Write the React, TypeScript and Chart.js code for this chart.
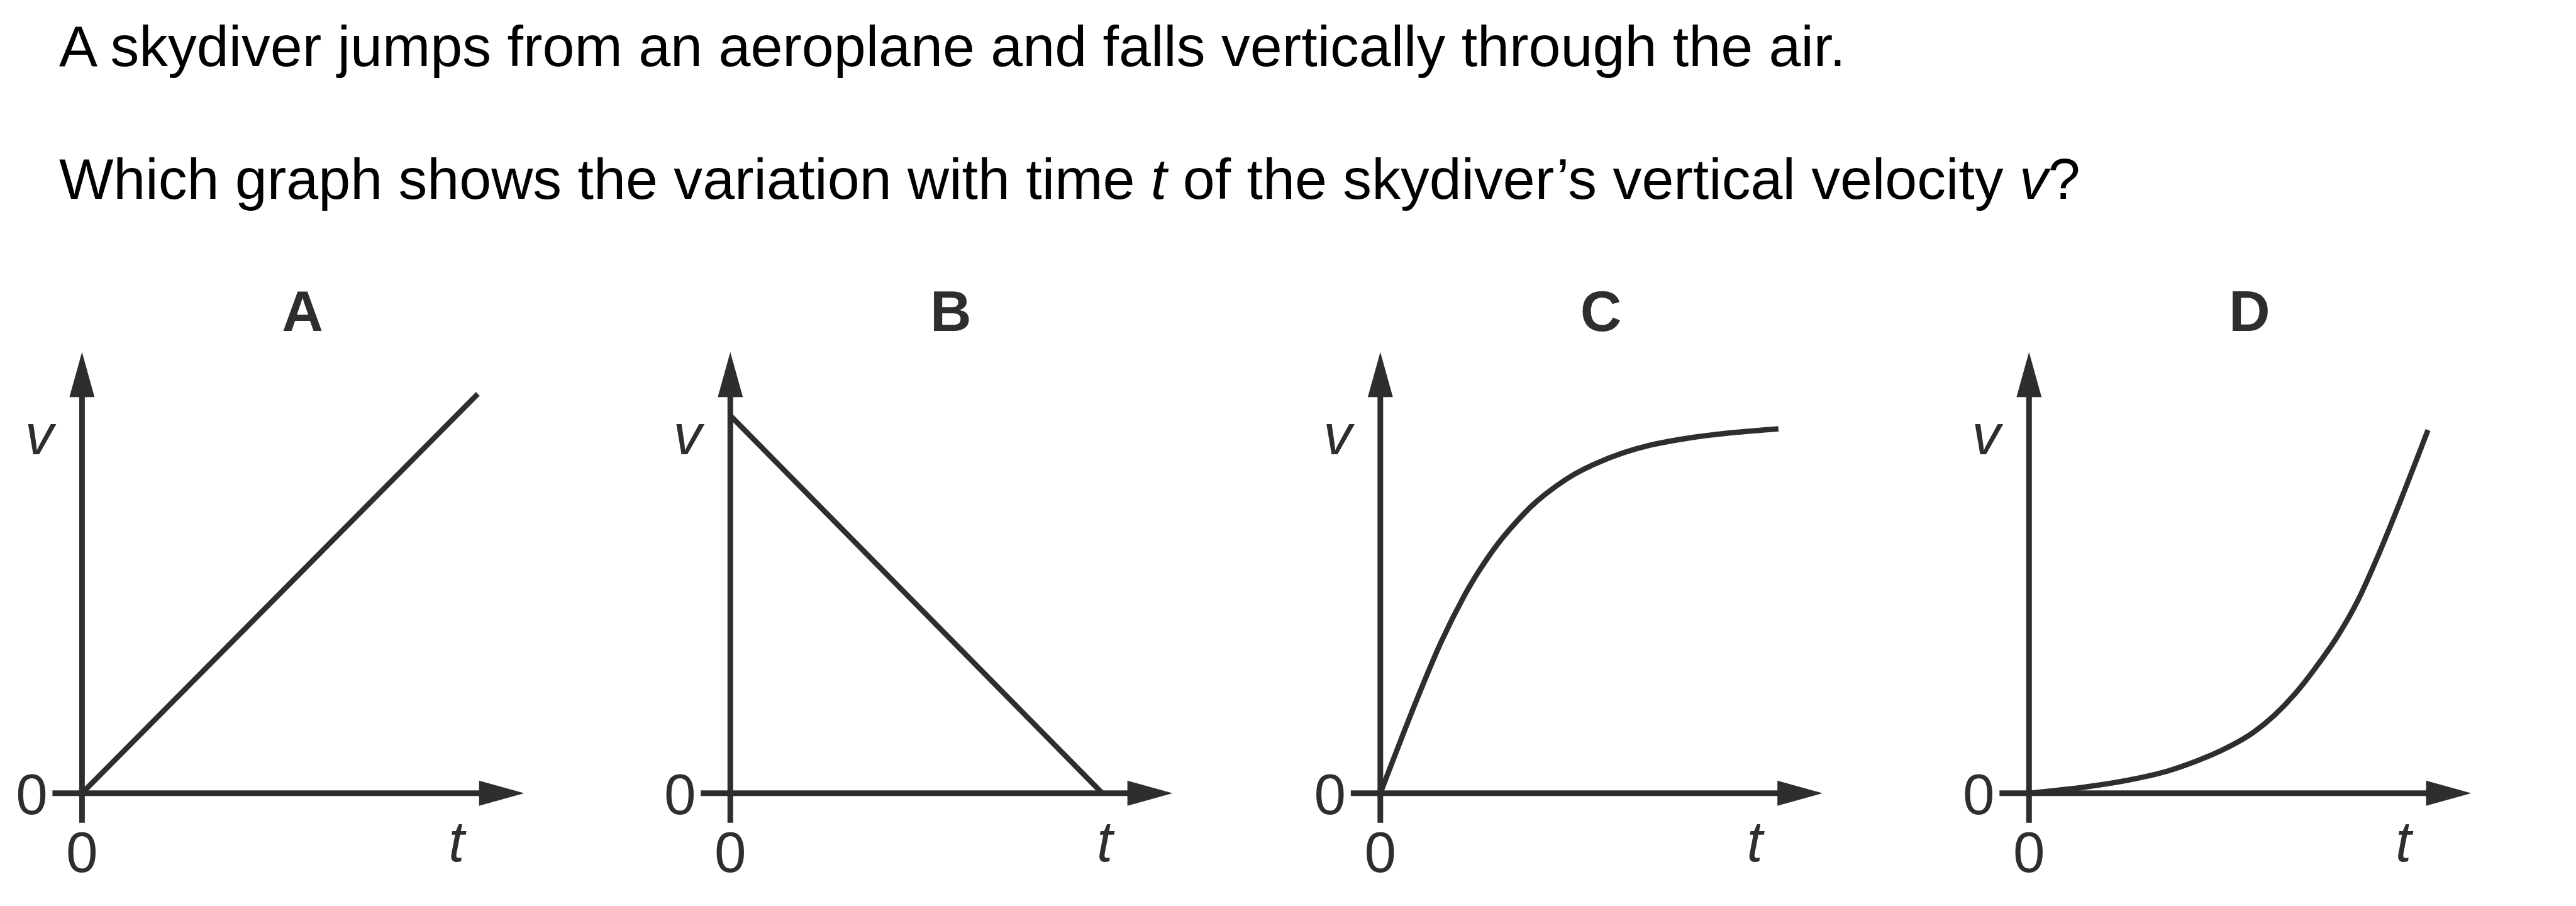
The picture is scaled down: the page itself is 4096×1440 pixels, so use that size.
import React, { useEffect, useRef } from "react";
import { Chart, registerables } from "chart.js";

Chart.register(...registerables);

// ---------- data (axis units: 0 .. 100, where 100 is the arrow tip) ----------
const panelLabels = ["A", "B", "C", "D"];
const xAxisTitle = "t";
const yAxisTitle = "v";
const originLabel = "0";
const axisMax = 100;

const timeA = [0, 89.5];
const velocityA = [0, 90.5];

const timeB = [0, 84.1];
const velocityB = [85.6, 0];

const timeC = [0, 5.5, 9.5, 13.8, 18.9, 22.4, 26.7, 32.8, 35.3, 39.6, 43.9, 48.2, 55.1, 61.1, 69.7, 78.4, 90.0];
const velocityC = [0, 14.3, 24.3, 34.4, 44.6, 50.5, 56.7, 63.7, 66.1, 69.5, 72.3, 74.5, 77.2, 78.9, 80.5, 81.6, 82.6];

const timeD = [0, 12.6, 22.1, 31.6, 41.1, 45.9, 50.6, 55.4, 60.2, 64.9, 69.7, 74.4, 79.2, 84.0, 90.2];
const velocityD = [0, 1.4, 2.9, 5.1, 8.6, 10.9, 13.7, 17.6, 22.6, 28.6, 35.5, 43.8, 54.5, 66.3, 82.3];

const seriesTimes = [timeA, timeB, timeC, timeD];
const seriesVelocities = [velocityA, velocityB, velocityC, velocityD];
const smoothCurve = [false, false, true, true];

const questionLine1 = "A skydiver jumps from an aeroplane and falls vertically through the air.";

// ---------- layout (reference pixels, scaled by S) ----------
const S = 0.999;
const INK = "#2e2e2e";
const FONT = '"Liberation Sans", Arial, Helvetica, sans-serif';
const yAxisXs = [130.5, 1162.4, 2197, 3229.5];
const AXIS_BOTTOM = 1262; // y of x-axis
const AXIS_TOP = 560; // y of y-arrow tip
const AXIS_LEN_X = 704; // y-axis -> x-arrow tip
const CANVAS_TOP = 430;
const CANVAS_W = 940;
const CANVAS_H = 1000;
const LEFT_ROOM = 130;

const sketchAxes = {
  id: "sketchAxes",
  beforeDatasetsDraw(chart: any, _args: any, opts: any) {
    const { ctx } = chart;
    const xs = chart.scales.x;
    const ys = chart.scales.y;
    const x0 = xs.getPixelForValue(0);
    const y0 = ys.getPixelForValue(0);
    const xEnd = xs.getPixelForValue(axisMax);
    const yEnd = ys.getPixelForValue(axisMax);
    const arrowLen = 72 * S;
    const arrowHalf = 20 * S;
    ctx.save();
    ctx.strokeStyle = INK;
    ctx.fillStyle = INK;
    ctx.lineWidth = 9 * S;
    ctx.lineCap = "butt";
    // x axis
    ctx.beginPath();
    ctx.moveTo(x0 - 47 * S, y0);
    ctx.lineTo(xEnd - arrowLen + 4, y0);
    ctx.stroke();
    // y axis
    ctx.beginPath();
    ctx.moveTo(x0, y0 + 47 * S);
    ctx.lineTo(x0, yEnd + arrowLen - 4);
    ctx.stroke();
    // arrow heads
    ctx.beginPath();
    ctx.moveTo(xEnd, y0);
    ctx.lineTo(xEnd - arrowLen, y0 - arrowHalf);
    ctx.lineTo(xEnd - arrowLen, y0 + arrowHalf);
    ctx.closePath();
    ctx.fill();
    ctx.beginPath();
    ctx.moveTo(x0, yEnd);
    ctx.lineTo(x0 - arrowHalf, yEnd + arrowLen);
    ctx.lineTo(x0 + arrowHalf, yEnd + arrowLen);
    ctx.closePath();
    ctx.fill();

    // labels
    ctx.textAlign = "center";
    ctx.textBaseline = "alphabetic";
    ctx.font = `bold ${91 * S}px ${FONT}`;
    ctx.fillText(opts.label, x0 + 351 * S, y0 - 735 * S);
    ctx.font = `${91 * S}px ${FONT}`;
    ctx.fillText(originLabel, x0 - 80 * S, y0 + 33 * S);
    ctx.fillText(originLabel, x0, y0 + 125 * S);
    ctx.font = `italic ${91 * S}px ${FONT}`;
    ctx.fillText(yAxisTitle, x0 - 68 * S, y0 - 539 * S);
    ctx.fillText(xAxisTitle, x0 + 596 * S, y0 + 108 * S);
    ctx.restore();
  },
};

function Panel({ index }: { index: number }) {
  const ref = useRef<HTMLCanvasElement | null>(null);
  const axX = yAxisXs[index];
  const left = Math.round((axX - LEFT_ROOM) * S);
  const top = Math.round(CANVAS_TOP * S);
  const w = Math.round(CANVAS_W * S);
  const h = Math.round(CANVAS_H * S);
  const padLeft = axX * S - left;
  const padRight = w - padLeft - AXIS_LEN_X * S;
  const padTop = AXIS_TOP * S - top;
  const padBottom = top + h - AXIS_BOTTOM * S;

  useEffect(() => {
    const canvas = ref.current;
    if (!canvas) return;
    const times = seriesTimes[index];
    const vels = seriesVelocities[index];
    const chart = new Chart(canvas, {
      type: "line",
      data: {
        datasets: [
          {
            data: times.map((t, i) => ({ x: t, y: vels[i] })),
            borderColor: INK,
            borderWidth: 8.5 * S,
            pointRadius: 0,
            fill: false,
            tension: smoothCurve[index] ? 0.4 : 0,
            cubicInterpolationMode: smoothCurve[index] ? "monotone" : "default",
            clip: false,
          } as any,
        ],
      },
      options: {
        responsive: false,
        animation: false,
        devicePixelRatio: 1,
        layout: { padding: { left: padLeft, right: padRight, top: padTop, bottom: padBottom } },
        scales: {
          x: { type: "linear", min: 0, max: axisMax, display: false },
          y: { type: "linear", min: 0, max: axisMax, display: false },
        },
        plugins: {
          legend: { display: false },
          tooltip: { enabled: false },
          sketchAxes: { label: panelLabels[index] },
        } as any,
      },
      plugins: [sketchAxes],
    });
    return () => chart.destroy();
  }, [index]);

  return (
    <canvas
      ref={ref}
      width={w}
      height={h}
      style={{ position: "absolute", left, top, width: w, height: h }}
    />
  );
}

export default function App() {
  const fs = 91.7 * S;
  const baseOff = 0.8465 * fs;
  const textStyle: React.CSSProperties = {
    position: "absolute",
    left: 94 * S,
    fontFamily: FONT,
    fontSize: fs,
    lineHeight: 1,
    whiteSpace: "nowrap",
    color: "#000",
    margin: 0,
  };
  return (
    <div
      style={{
        position: "absolute",
        left: 0,
        top: 0,
        width: 4096,
        height: 1440,
        background: "#fff",
        overflow: "hidden",
      }}
    >
      <div style={{ ...textStyle, top: 106 * S - baseOff }}>{questionLine1}</div>
      <div style={{ ...textStyle, top: 317 * S - baseOff }}>
        Which graph shows the variation with time <i>t</i> of the skydiver’s vertical velocity <i>v</i>?
      </div>
      {panelLabels.map((_, i) => (
        <Panel key={i} index={i} />
      ))}
    </div>
  );
}
